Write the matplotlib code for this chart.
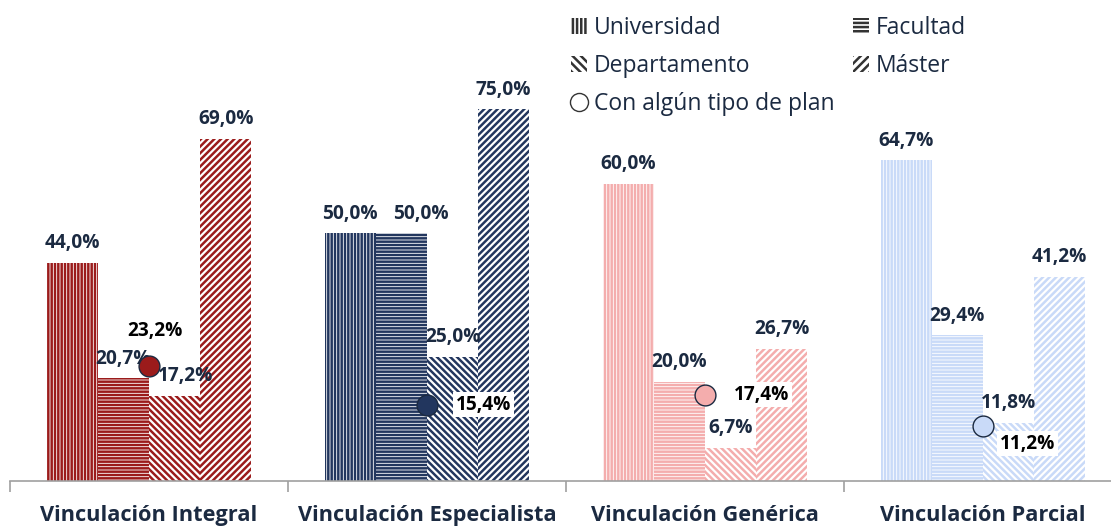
import matplotlib
matplotlib.use('Agg')
import matplotlib.pyplot as plt
import numpy as np
from matplotlib.patches import Patch
from matplotlib.lines import Line2D

categories = ['Vinculación Integral', 'Vinculación Especialista',
              'Vinculación Genérica', 'Vinculación Parcial']
series = ['Universidad', 'Facultad', 'Departamento', 'Máster']
universidad = [44.0, 50.0, 60.0, 64.7]
facultad = [20.7, 50.0, 20.0, 29.4]
departamento = [17.2, 25.0, 6.7, 11.8]
master = [69.0, 75.0, 26.7, 41.2]
con_plan = [23.2, 15.4, 17.4, 11.2]
plan_label = 'Con algún tipo de plan'

group_colors = ['#9B1B1B', '#22365E', '#F4ADAD', '#C9DAF8']
hatches = ['|||||', '-----', '\\\\\\\\\\', '/////']
text_dark = '#1B2A41'

plt.rcParams['font.family'] = ['Open Sans', 'DejaVu Sans']
plt.rcParams['hatch.linewidth'] = 1.8

fig = plt.figure(figsize=(11.11, 5.26), dpi=100)
# axes spans 4 categories of ~278 px each, running a bit past the right edge
ax = fig.add_axes([10 / 1111, 45 / 526, 1112 / 1111, 481 / 526])

values = [universidad, facultad, departamento, master]
x = np.arange(len(categories))
width = 0.184

# a few labels are pushed sideways so they do not collide (series, group) -> points
nudge = {(1, 1): 14, (2, 0): 8}

for s, (vals, h) in enumerate(zip(values, hatches)):
    offs = (s - 1.5) * width
    for i, v in enumerate(vals):
        ax.bar(x[i] + offs, v, width, facecolor='white', edgecolor=group_colors[i],
               hatch=h, linewidth=0)
        ax.annotate(f'{v:.1f}%'.replace('.', ','), (x[i] + offs, v),
                    xytext=(nudge.get((s, i), 0), 7),
                    textcoords='offset points', ha='center', va='bottom',
                    fontsize=13.8, fontweight='bold', color=text_dark)

# circles for "con algún tipo de plan"
plan_offsets = [(4, 25), (21, 0), (21, 0), (12, -13)]
for i, v in enumerate(con_plan):
    ax.plot(x[i], v, 'o', markersize=15, markerfacecolor=group_colors[i],
            markeredgecolor='#1B2A41', markeredgewidth=1, zorder=5)
    dx, dy = plan_offsets[i]
    ax.annotate(f'{v:.1f}%'.replace('.', ','), (x[i], v), xytext=(dx, dy),
                textcoords='offset points', ha='left' if dx > 6 else 'center',
                va='center', fontsize=13.8, fontweight='bold', color='black',
                bbox=dict(facecolor='white', edgecolor='none', pad=2), zorder=6)

ax.set_xlim(-0.5, 3.5)
ax.set_ylim(0, 97.1)
for side in ['top', 'right', 'left']:
    ax.spines[side].set_visible(False)
ax.spines['bottom'].set_color('#A0A0A0')
ax.spines['bottom'].set_linewidth(1.2)
ax.set_yticks([])
ax.set_xticks(np.arange(-0.5, 4.0, 1.0), minor=False)
ax.set_xticklabels([])
ax.tick_params(axis='x', length=8, color='#A0A0A0', width=1.2)
for i, c in enumerate(categories):
    ax.text(x[i], -7.0, c, ha='center', va='center', fontsize=15.7,
            fontweight='bold', color=text_dark, clip_on=False)

handles = [Patch(facecolor='white', edgecolor='#333333', hatch=h, linewidth=0)
           for h in ['||||', '----', '\\\\\\\\', '////']]
handles.append(Line2D([], [], marker='o', linestyle='none', markersize=13,
                      markerfacecolor='white', markeredgecolor='#333333'))
labels = series + [plan_label]
order = [0, 2, 4, 1, 3]
leg = fig.legend([handles[k] for k in order], [labels[k] for k in order],
                 loc='upper left', bbox_to_anchor=(555 / 1111, 1.0), ncol=2,
                 frameon=False, fontsize=16.5, handlelength=0.7, handleheight=0.7,
                 handletextpad=0.3, columnspacing=0.8, labelspacing=0.62,
                 borderaxespad=0.3)
for t in leg.get_texts():
    t.set_color(text_dark)

plt.savefig('out.png', dpi=100)
